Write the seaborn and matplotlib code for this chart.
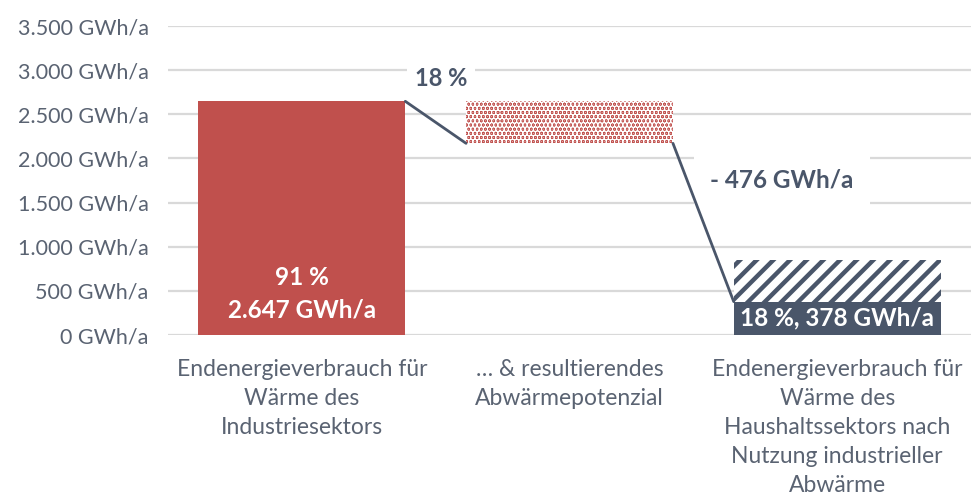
import matplotlib
matplotlib.use("Agg")
import matplotlib.pyplot as plt
import seaborn as sns
import pandas as pd

categories = ["Endenergieverbrauch für\nWärme des\nIndustriesektors",
              "… & resultierendes\nAbwärmepotenzial",
              "Endenergieverbrauch für\nWärme des\nHaushaltssektors nach\nNutzung industrieller\nAbwärme"]
total_industry = 2647
waste_heat = 476
household_after = 378
yticks = [0, 500, 1000, 1500, 2000, 2500, 3000, 3500]
ytick_labels = ["0 GWh/a", "500 GWh/a", "1.000 GWh/a", "1.500 GWh/a",
                "2.000 GWh/a", "2.500 GWh/a", "3.000 GWh/a", "3.500 GWh/a"]
label_bar1 = "91 %\n2.647 GWh/a"
label_pct = "18 %"
label_delta = "- 476 GWh/a"
label_bar3 = "18 %, 378 GWh/a"

RED = "#C0504D"
SLATE = "#4A566A"
TXT = "#5A6372"

sns.set_style("white")
plt.rcParams["font.family"] = ["Lato", "DejaVu Sans"]
plt.rcParams["hatch.linewidth"] = 3.2

fig = plt.figure(figsize=(9.71, 4.96), dpi=100)
ax = fig.add_axes([168/971, (496-335)/496, (971-168)/971, 309/496])

W = 0.773
df = pd.DataFrame({"cat": categories,
                   "val": [total_industry, 0, household_after],
                   "col": ["a", "b", "c"]})
sns.barplot(data=df, x="cat", y="val", hue="col",
            palette={"a": RED, "b": RED, "c": SLATE},
            width=W, dodge=False, legend=False, ax=ax, zorder=3, linewidth=0,
            saturation=1)

# floating waterfall segment (dotted)
ax.bar(1, waste_heat, bottom=total_industry - waste_heat, width=W,
       facecolor=RED, edgecolor="white", hatch="....", linewidth=0, zorder=3)
# hatched part on top of household bar
ax.bar(2, waste_heat, bottom=household_after, width=W,
       facecolor="white", edgecolor=SLATE, hatch="//", linewidth=0, zorder=3)

# connectors
ax.plot([0 + W/2, 1 - W/2], [total_industry, total_industry - waste_heat],
        color=SLATE, lw=2, zorder=6)
ax.plot([1 + W/2, 2 - W/2], [total_industry - waste_heat, household_after],
        color=SLATE, lw=2, zorder=6)

ax.set_ylim(0, 3500)
ax.set_xlim(-0.5, 2.5)
ax.set_yticks(yticks)
ax.set_yticklabels(ytick_labels)
ax.grid(axis="y", color="#D9D9D9", lw=1.6, zorder=0)
ax.set_axisbelow(True)
for s in ax.spines.values():
    s.set_visible(False)
ax.tick_params(axis="both", length=0, colors=TXT)
ax.tick_params(axis="y", pad=14, labelsize=15.5)
ax.tick_params(axis="x", pad=17, labelsize=16.5)
for t in ax.get_xticklabels():
    t.set_linespacing(1.47)
ax.set_xlabel("")
ax.set_ylabel("")

ax.text(0, 470, label_bar1, ha="center", va="center", color="white",
        fontsize=17.5, fontweight="bold", linespacing=1.5, zorder=5)
ax.text(2, 190, label_bar3, ha="center", va="center", color="white",
        fontsize=17.5, fontweight="bold", zorder=5)
ax.text(0.52, 2911, label_pct, ha="center", va="center", color=SLATE,
        fontsize=17, fontweight="bold", zorder=5,
        bbox=dict(facecolor="white", edgecolor="none", pad=6))
ax.text(1.794, 1755, label_delta, ha="center", va="center", color=SLATE,
        fontsize=17.5, fontweight="bold", zorder=5,
        bbox=dict(facecolor="white", edgecolor="none", pad=12))

fig.savefig("out.png", dpi=100)
